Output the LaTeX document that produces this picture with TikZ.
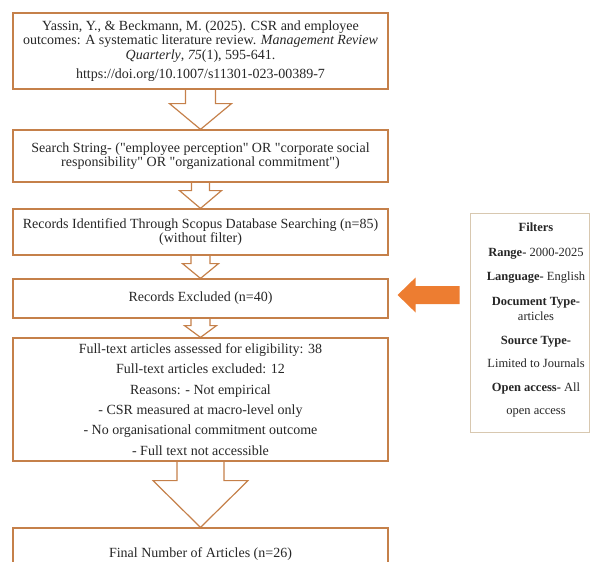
\documentclass[tikz,border=0pt]{standalone}
\usepackage{fontspec}
\setmainfont{Liberation Serif}[Ligatures=TeXOff]
\usetikzlibrary{calc}
\definecolor{boxc}{RGB}{197,128,74}
\definecolor{fltc}{RGB}{216,200,176}
\definecolor{arrc}{RGB}{237,125,49}
\tikzset{bx/.append style={draw=boxc, line width=1.2pt, minimum width=375pt, align=center, inner sep=0pt, text=black!85, font=\fontsize{14}{14.5}\selectfont}}
\tikzset{fb/.append style={draw=fltc, line width=0.8pt, minimum width=119pt, minimum height=219pt}}
\tikzset{ft/.append style={align=center, inner sep=0pt, text=black!85, font=\fontsize{12.5}{15.5}\selectfont}}
\tikzset{ha/.append style={draw=boxc, line width=1.2pt, line join=miter}}
% hollow block arrow: from, to, shaft half width, head half width, shaft length
\newcommand{\blkarrow}[5]{%
  \draw[ha] ($(#1.south)+(-#3,0)$) -- ($(#1.south)+(-#3,#5)$) -- ($(#1.south)+(-#4,#5)$)
    -- (#2.north) -- ($(#1.south)+(#4,#5)$) -- ($(#1.south)+(#3,#5)$) -- ($(#1.south)+(#3,0)$);}

\begin{document}
\begin{tikzpicture}[x=1pt,y=-1pt]
                \useasboundingbox (0,0) rectangle (590,562);
                \clip (0,0) rectangle (590,562);
                % boxes
                \node[bx,minimum height=76pt] (b1) at (200.5,51) {Yassin, Y., \& Beckmann, M. (2025). CSR and employee\\ outcomes: A systematic literature review. \textit{Management Review}\\ \textit{Quarterly}, \textit{75}(1), 595-641.\\[4.5pt] https://doi.org/10.1007/s11301-023-00389-7};
                \node[bx,minimum height=52pt] (b2) at (200.5,156) {Search String- ("employee perception" OR "corporate social\\ responsibility" OR "organizational commitment")};
                \node[bx,minimum height=46pt] (b3) at (200.5,232) {Records Identified Through Scopus Database Searching (n=85)\\ (without filter)};
                \node[bx,minimum height=39pt] (b4) at (200.5,298.5) {Records Excluded (n=40)};
                \node[bx,minimum height=123pt,font=\fontsize{14}{20.4}\selectfont] (b5) at (200.5,399.5) {Full-text articles assessed for eligibility: 38\\ Full-text articles excluded: 12\\ Reasons: - Not empirical\\ - CSR measured at macro-level only\\ - No organisational commitment outcome\\ - Full text not accessible};
                \node[bx,minimum height=52pt] (b6) at (200.5,554) {Final Number of Articles (n=26)};
                % filters
                \node[fb] (fltbox) at (529.5,322.5) {};
                \node[ft] (flt) at (536,320) {\textbf{Filters}\\[9pt] \textbf{Range-} 2000-2025\\[9pt] \textbf{Language-} English\\[9pt] \textbf{Document Type-}\\ articles\\[8pt] \textbf{Source Type-}\\[8pt] Limited to Journals\\[8pt] \textbf{Open access-} All\\[8pt] open access};
                % arrows
                \blkarrow{b1}{b2}{15}{31}{14}
                \blkarrow{b2}{b3}{9}{21}{8}
                \blkarrow{b3}{b4}{9.5}{18}{8}
                \blkarrow{b4}{b5}{9.5}{16}{7}
                \blkarrow{b5}{b6}{23.5}{47.5}{19}
                \fill[arrc] ($(b4.east)+(9,-3.5)$) -- ++(18,-17.5) -- ++(0,8.5) -- ++(44,0) -- ++(0,18) -- ++(-44,0) -- ++(0,8.5) -- cycle;
            \end{tikzpicture}
\end{document}
